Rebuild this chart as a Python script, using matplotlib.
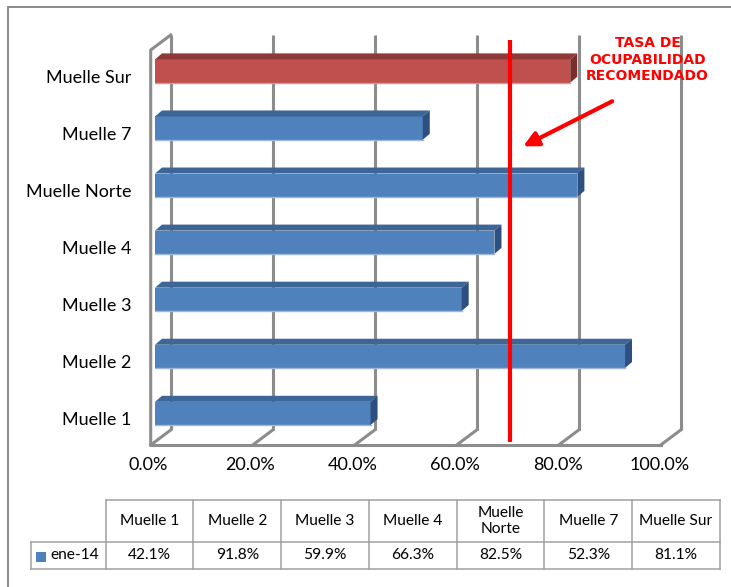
import matplotlib
matplotlib.use("Agg")
import matplotlib.pyplot as plt
from matplotlib.patches import Polygon, Rectangle
from matplotlib.transforms import ScaledTranslation

# data
categories = ["Muelle 1", "Muelle 2", "Muelle 3", "Muelle 4", "Muelle Norte", "Muelle 7", "Muelle Sur"]
table_headers = ["Muelle 1", "Muelle 2", "Muelle 3", "Muelle 4", "Muelle\nNorte", "Muelle 7", "Muelle Sur"]
values = [0.421, 0.918, 0.599, 0.663, 0.825, 0.523, 0.811]
series_name = "ene-14"
highlight = "Muelle Sur"
x_ticks = [0.0, 0.2, 0.4, 0.6, 0.8, 1.0]
recommended = 0.693
note_text = "TASA DE\nOCUPABILIDAD\nRECOMENDADO"

# layout (pixels of a 731x587 canvas)
W, H = 731, 587
PX_X = 512.0     # pixels per 100%
PX_Y = 57.07     # pixels per category
BLUE = ("#4F81BD", "#3D6596", "#2E5080", "#9DB8DB")
RED = ("#C0504D", "#8E3A38", "#7B2F2D", "#D99594")
GRID = "#8C8C8C"

plt.rcParams["font.family"] = ["Lato", "DejaVu Sans"]


def fig_rect(x0, y0, x1, y1):
    return [x0 / W, 1 - y1 / H, (x1 - x0) / W, (y1 - y0) / H]


def dx(px):
    return px / PX_X


def dy(px):
    return px / PX_Y


fig = plt.figure(figsize=(W / 100, H / 100), dpi=100)
fig.patches.append(Rectangle((8 / W, -0.1), 1.2, 1.1 - 7 / H, transform=fig.transFigure,
                             fill=False, edgecolor="#8A8A8A", linewidth=1.4))

ax = fig.add_axes(fig_rect(155, 42.5, 667, 442.0))
ax.set_xlim(0, 1)
ax.set_ylim(-0.5, 6.5)
for s in ax.spines.values():
    s.set_visible(False)

# 3D walls and gridlines
y_floor = -0.5 - dy(3)
y_top = 6.5 + dy(7.5)
depth_x, depth_y = dx(20), dy(15)


def gx(v):
    return v * 510 / 512 - dx(4.3)


for v in x_ticks:
    ax.plot([gx(v) + depth_x] * 2, [y_floor + depth_y, y_top], color=GRID, lw=2.2,
            zorder=1, clip_on=False, solid_capstyle="butt")
    ax.plot([gx(v), gx(v) + depth_x], [y_floor, y_floor + depth_y], color=GRID, lw=2.2,
            zorder=1, clip_on=False)
ax.plot([gx(0), gx(1)], [y_floor, y_floor], color=GRID, lw=2.2, zorder=1, clip_on=False)
ax.plot([gx(0), gx(0), gx(0) + depth_x], [y_floor, y_top - depth_y, y_top],
        color=GRID, lw=2.2, zorder=1, clip_on=False)

# bars
h = dy(23.3)
bdx, bdy = dx(7), dy(6)
for i, (cat, v) in enumerate(zip(categories, values)):
    front, top, side, light = RED if cat == highlight else BLUE
    ax.barh(i, v, height=h, color=front, zorder=3)
    ax.add_patch(Polygon([(0, i + h / 2), (v, i + h / 2), (v + bdx, i + h / 2 + bdy),
                          (bdx, i + h / 2 + bdy)], closed=True, color=top, zorder=3, lw=0))
    ax.add_patch(Polygon([(v, i - h / 2), (v, i + h / 2), (v + bdx, i + h / 2 + bdy),
                          (v + bdx, i - h / 2 + bdy)], closed=True, color=side, zorder=3, lw=0))
    ax.plot([0, v], [i - h / 2] * 2, color=light, lw=1, zorder=3)

# recommended line, arrow and note
ax.plot([recommended] * 2, [-0.5 - dy(0), 6.5 + dy(2.5)], color="#FF0000", lw=3,
        zorder=6, clip_on=False, solid_capstyle="butt")
ax.annotate("", xy=(0.719, 4.68), xytext=(0.893, 5.47),
            arrowprops=dict(arrowstyle="-|>", color="#FF0000", lw=3, mutation_scale=22,
                            shrinkA=0, shrinkB=0), annotation_clip=False, zorder=6)
ax.text(0.962, 6.2, note_text, color="#FF0000", fontsize=10, fontweight="bold",
        family="DejaVu Sans", ha="center", va="center", linespacing=1.2, zorder=6)

ax.set_yticks(range(len(categories)), categories)
ax.tick_params(axis="y", length=0, pad=17, labelsize=13)
for lab in ax.get_yticklabels():
    lab.set_transform(lab.get_transform() + ScaledTranslation(0, -5 / 100, fig.dpi_scale_trans))
ax.set_xticks(x_ticks, [f"{v * 100:.1f}%" for v in x_ticks])
ax.tick_params(axis="x", length=0, pad=11, labelsize=13)
for lab in ax.get_xticklabels():
    lab.set_transform(lab.get_transform() + ScaledTranslation(-7 / 100, 0, fig.dpi_scale_trans))

# data table
axt = fig.add_axes(fig_rect(31, 500, 720, 569))
col_w = 87.77
lab_w = 74.6 / col_w
axt.set_xlim(-lab_w, len(categories))
axt.set_ylim(0, 69)
axt.axis("off")
row_split = 27.3
line_kw = dict(color="#A0A0A0", lw=1.1, clip_on=False)
axt.plot([0, len(categories)], [69, 69], **line_kw)
axt.plot([-lab_w, len(categories)], [row_split, row_split], **line_kw)
axt.plot([-lab_w, len(categories)], [0, 0], **line_kw)
axt.plot([-lab_w, -lab_w], [0, row_split], **line_kw)
for j in range(len(categories) + 1):
    axt.plot([j, j], [0, 69], **line_kw)
for j, (hd, v) in enumerate(zip(table_headers, values)):
    axt.text(j + 0.5, (69 + row_split) / 2, hd, ha="center", va="center", fontsize=11.2,
             linespacing=1.15)
    axt.text(j + 0.5, row_split / 2, f"{v * 100:.1f}%", ha="center", va="center", fontsize=11.2)
axt.add_patch(Rectangle((-lab_w + 5 / col_w, 7.3), 10 / col_w, 10, color=BLUE[0], lw=0))
axt.text(-lab_w + 19.7 / col_w, row_split / 2, series_name, ha="left", va="center", fontsize=11.2)

fig.savefig("out.png", dpi=100)
